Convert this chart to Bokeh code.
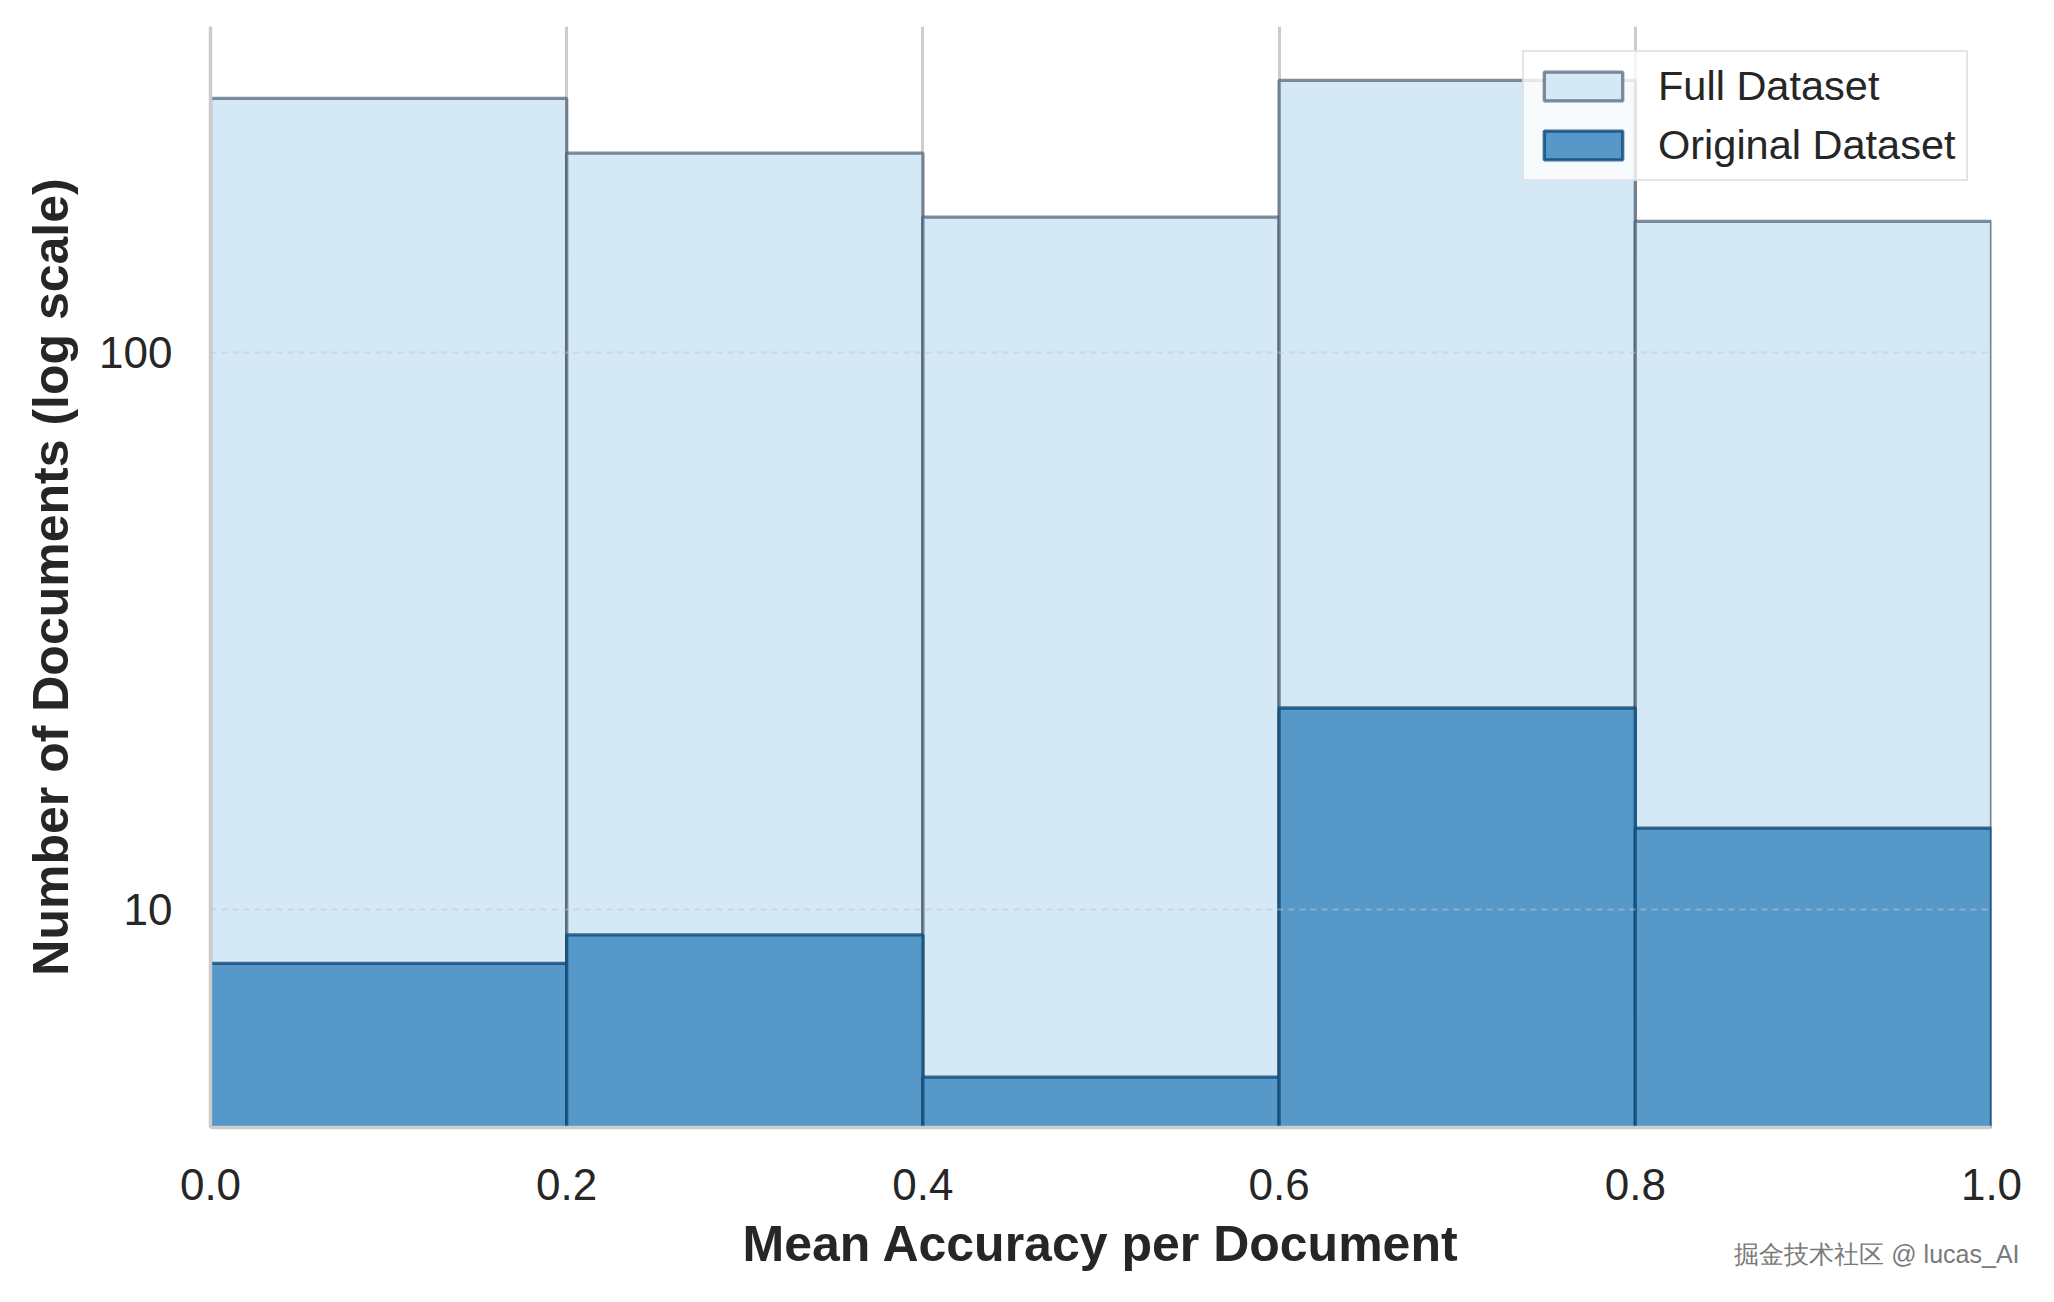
from bokeh.plotting import figure
from bokeh.models import Range1d, FixedTicker, PrintfTickFormatter, Legend, LegendItem, Title
from bokeh.embed import file_html
from bokeh.resources import INLINE

# ---- data ----
bin_edges = [0.0, 0.2, 0.4, 0.6, 0.8, 1.0]
full_counts = [286, 228, 175, 308, 172]
original_counts = [8, 9, 5, 23, 14]
series_names = ["Full Dataset", "Original Dataset"]
x_ticks = [0.0, 0.2, 0.4, 0.6, 0.8, 1.0]
y_ticks = [10, 100]
watermark = "掘金技术社区 @ lucas_AI"

FONT = "Liberation Sans"
TXT = "#262626"

p = figure(width=2038, height=1286,
           x_range=Range1d(0, 1), y_range=Range1d(4.06, 385),
           y_axis_type="log", output_backend="svg", toolbar_location=None,
           min_border_left=210, min_border_right=47,
           min_border_top=26, min_border_bottom=159)
p.outline_line_color = None
p.background_fill_color = "white"
p.border_fill_color = "white"

left = bin_edges[:-1]
right = bin_edges[1:]
r_full = p.quad(left=left, right=right, top=full_counts, bottom=1,
                fill_color="#d5e8f6", line_color="#3f5266", line_alpha=0.65,
                line_width=3.3)
r_orig = p.quad(left=left, right=right, top=original_counts, bottom=1,
                fill_color="#5698c8", line_color="#0f4a78", line_alpha=0.8,
                line_width=3.3)

# grids
p.xgrid.ticker = FixedTicker(ticks=x_ticks)
p.xgrid.grid_line_color = "#cccccc"
p.xgrid.grid_line_width = 3
p.ygrid.ticker = FixedTicker(ticks=y_ticks)
p.ygrid.grid_line_color = "#b8c8d6"
p.ygrid.grid_line_alpha = 0.5
p.ygrid.grid_line_dash = "6 5"
p.ygrid.grid_line_width = 2
p.ygrid.level = "overlay"

# axes
for ax in (p.xaxis[0], p.yaxis[0]):
    ax.axis_line_color = "#cccccc"
    ax.axis_line_width = 3.5
    ax.major_tick_line_color = None
    ax.minor_tick_line_color = None
    ax.major_tick_out = 0
    ax.major_tick_in = 0
    ax.minor_tick_out = 0
    ax.major_label_text_font = FONT
    ax.major_label_text_font_size = "44px"
    ax.major_label_text_color = TXT
    ax.axis_label_text_font = FONT
    ax.axis_label_text_font_size = "50px"
    ax.axis_label_text_font_style = "bold"
    ax.axis_label_text_color = TXT

p.xaxis[0].ticker = FixedTicker(ticks=x_ticks)
p.xaxis[0].formatter = PrintfTickFormatter(format="%.1f")
p.xaxis[0].axis_label = "Mean Accuracy per Document"
p.xaxis[0].major_label_standoff = 41
p.xaxis[0].axis_label_standoff = 13

p.yaxis[0].ticker = FixedTicker(ticks=y_ticks, minor_ticks=[])
p.yaxis[0].formatter = PrintfTickFormatter(format="%d")
p.yaxis[0].axis_label = "Number of Documents (log scale)"
p.yaxis[0].major_label_standoff = 38
p.yaxis[0].axis_label_standoff = 17

legend = Legend(items=[LegendItem(label=series_names[0], renderers=[r_full]),
                       LegendItem(label=series_names[1], renderers=[r_orig])],
                location=(1312, 946), margin=0, padding=10,
                spacing=11, glyph_width=98, glyph_height=36,
                label_standoff=26, label_text_font=FONT,
                label_text_font_size="41.5px", label_text_color=TXT,
                border_line_color="#cccccc", border_line_width=2.5,
                background_fill_color="white", background_fill_alpha=0.8)
p.add_layout(legend)

wt = Title(text=watermark, align="right", vertical_align="top",
           text_font_size="25px", text_color="#7a7a7a",
           text_font_style="normal", standoff=-69, offset=-28)
p.add_layout(wt, "below")

open("out.html", "w").write(file_html(p, INLINE))
